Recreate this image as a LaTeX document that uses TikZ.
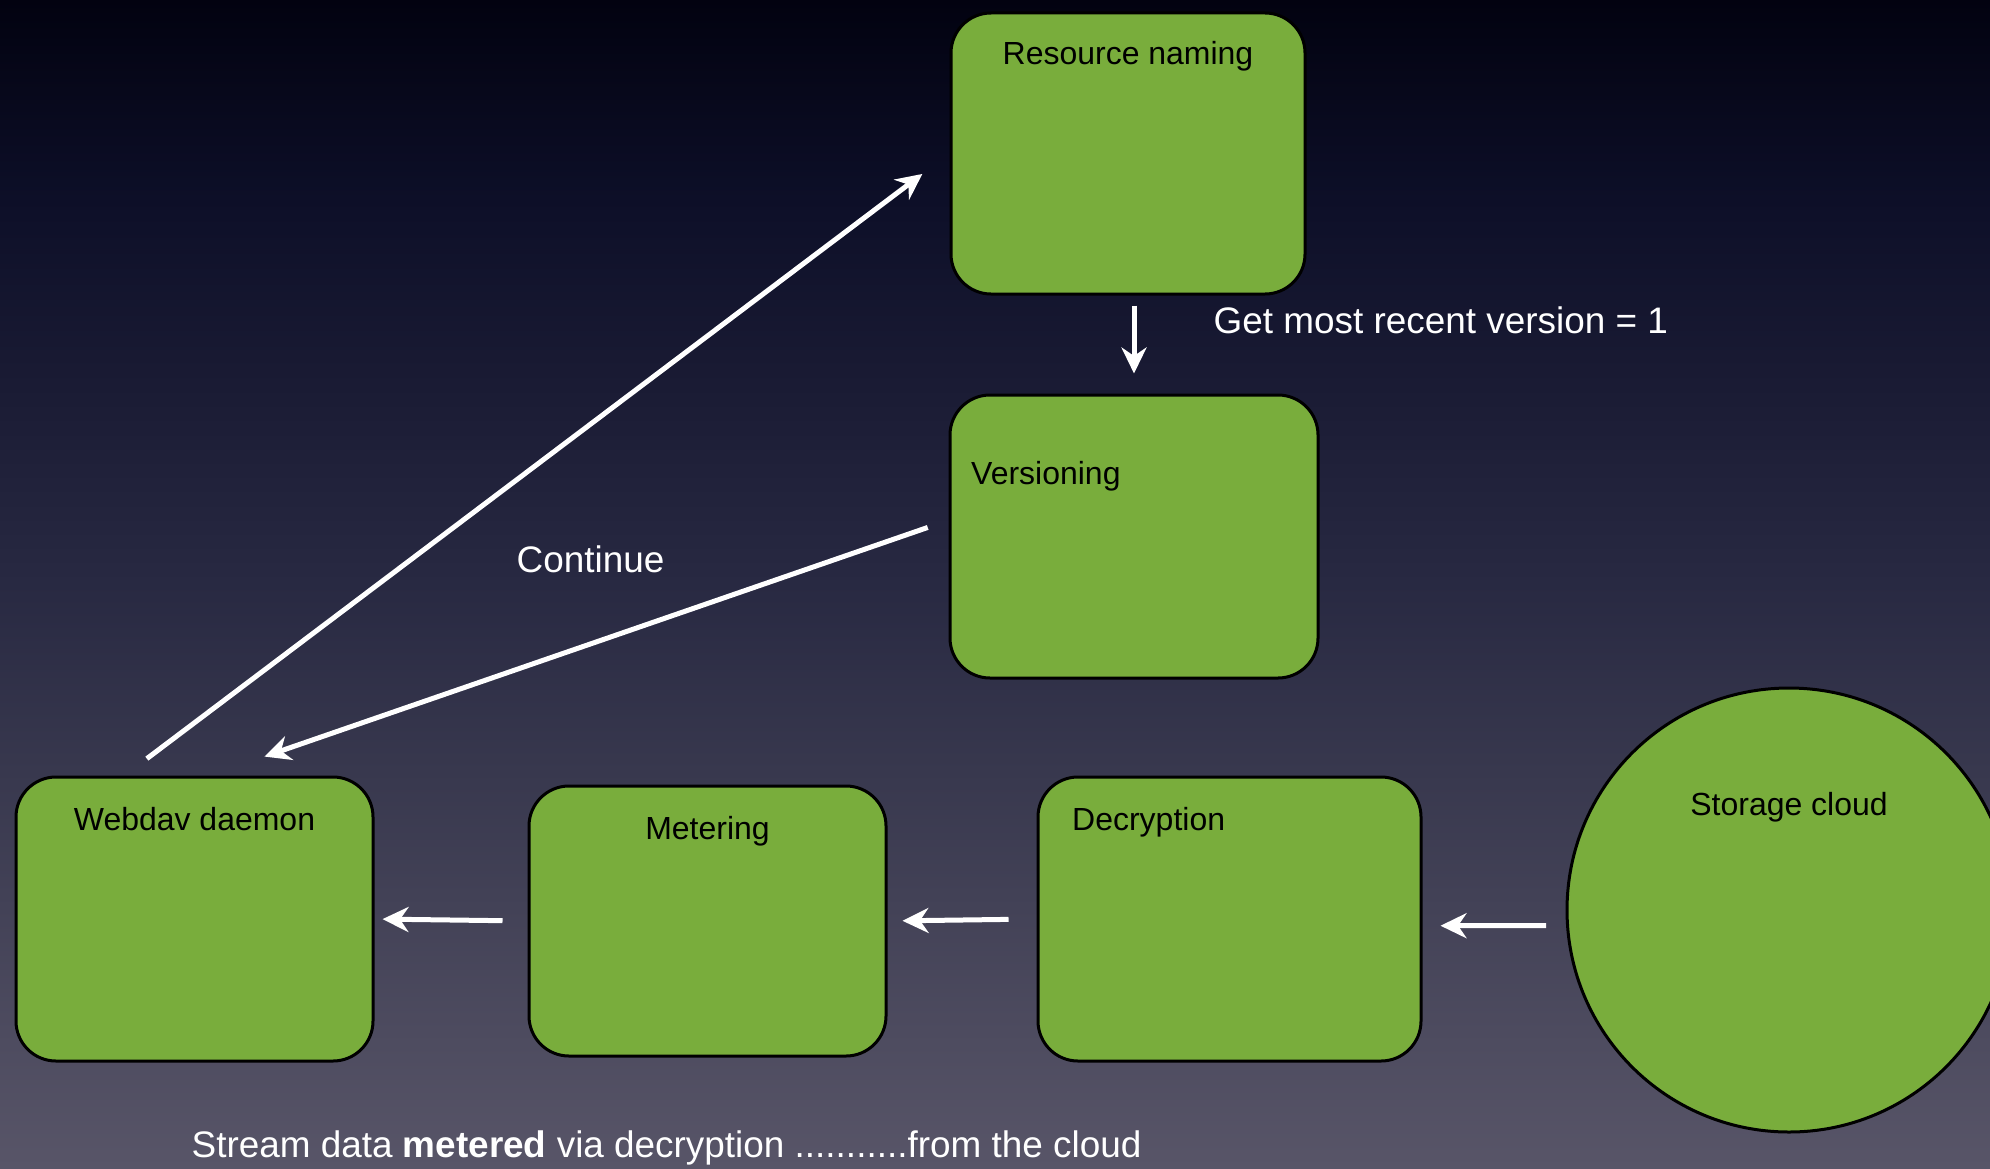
\documentclass[tikz,border=0pt]{standalone}
\usepackage{fontspec}
\setmainfont{Liberation Sans}
\usetikzlibrary{positioning,arrows.meta}

\definecolor{bga}{RGB}{88,85,104}
\definecolor{bgb}{RGB}{56,56,78}
\definecolor{bgc}{RGB}{40,41,66}
\definecolor{bgd}{RGB}{26,27,52}
\definecolor{bge}{RGB}{13,15,40}
\definecolor{bgf}{RGB}{2,2,16}
\definecolor{boxgreen}{RGB}{121,173,60}
\pgfdeclareverticalshading{sfondo}{100bp}{color(0bp)=(bga); color(25bp)=(bga); color(42bp)=(bgb); color(50bp)=(bgc); color(58.5bp)=(bgd); color(66.5bp)=(bge); color(75bp)=(bgf); color(100bp)=(bgf)}

\begin{document}
\begin{tikzpicture}[
    box/.style={rectangle, draw=black, line width=0.03cm, fill=boxgreen, rounded corners=0.4cm, inner sep=0pt},
    cloud/.style={circle, draw=black, line width=0.03cm, fill=boxgreen, inner sep=0pt},
    lbl/.style={inner sep=0pt, text=black, font=\fontsize{9.1pt}{11pt}\selectfont},
    note/.style={inner sep=0pt, text=white, font=\fontsize{10.5pt}{12pt}\selectfont},
    flow/.style={draw=white, line width=0.05cm, -{Stealth[length=0.26cm, width=0.25cm]}}
  ]
        % Sfondo
        \useasboundingbox (0,0) rectangle (19.9,11.68);
        \shade[shading=sfondo] (0,0) rectangle (19.9,11.68);
        % Blocchi
        \node[box, minimum width=3.54cm, minimum height=2.81cm] (resource) at (11.28,10.145) {};
        \node[box, minimum width=3.68cm, minimum height=2.83cm] (versioning) at (11.34,6.315) {};
        \node[box, minimum width=3.57cm, minimum height=2.84cm] (webdav) at (1.945,2.49) {};
        \node[box, minimum width=3.57cm, minimum height=2.70cm] (metering) at (7.075,2.47) {};
        \node[box, minimum width=3.83cm, minimum height=2.84cm] (decryption) at (12.295,2.49) {};
        \node[cloud, minimum size=4.44cm] (storage) at (17.89,2.58) {};
        % Testi nei blocchi
        \node[lbl, below=0.29cm of resource.north] (resource-txt) {Resource naming};
        \node[lbl, below right=0.67cm and 0.22cm of versioning.north west] (versioning-txt) {Versioning};
        \node[lbl, below=0.31cm of webdav.north] (webdav-txt) {Webdav daemon};
        \node[lbl, below=0.31cm of metering.north] (metering-txt) {Metering};
        \node[lbl, below right=0.31cm and 0.35cm of decryption.north west] (decryption-txt) {Decryption};
        \node[lbl, below=1.05cm of storage.north] (storage-txt) {Storage cloud};
        % Frecce
        \draw[flow, shorten <=0.28cm, shorten >=0.34cm] (webdav.116) -- (resource.west);
        \draw[flow, shorten <=0.1cm, shorten >=0.2cm] (versioning.north |- resource.south) -- (versioning.north);
        \draw[flow, shorten <=0.22cm, shorten >=0.58cm] (versioning.175) -- (webdav.84);
        \draw[flow, shorten <=0.25cm, shorten >=0.08cm] (metering.west) -- (webdav.east);
        \draw[flow, shorten <=0.28cm, shorten >=0.15cm] (decryption.west) -- (metering.east);
        \draw[flow, shorten <=0.2cm, shorten >=0.18cm] (storage.184) -- (decryption.358);
        % Annotazioni
        \node[note, anchor=base west] (get-txt) at (12.13,8.35) {Get most recent version = 1};
        \node[note, anchor=base] (continue-txt) at (5.905,5.955) {Continue};
        \node[note, anchor=base west] (stream-txt) at (1.91,0.11) {Stream data \textbf{metered} via decryption ...........from the cloud};
    \end{tikzpicture}
\end{document}
